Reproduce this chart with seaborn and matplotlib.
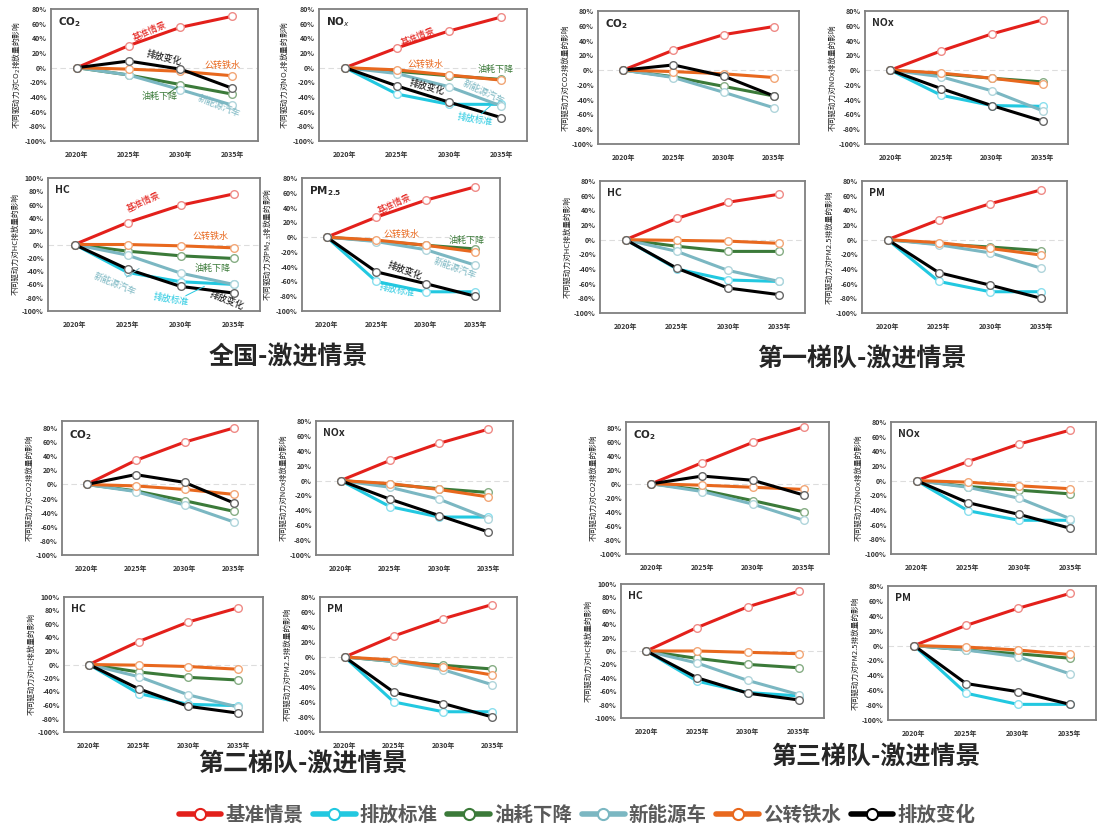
import matplotlib
matplotlib.use('Agg')
import matplotlib.pyplot as plt
from matplotlib.lines import Line2D
import seaborn as sns

sns.set_style('white')
plt.rcParams['font.family'] = ['Noto Sans CJK SC', 'DejaVu Sans']
plt.rcParams['axes.unicode_minus'] = False

years = ['2020年', '2025年', '2030年', '2035年']
names = ['基准情景', '排放标准', '油耗下降', '新能源车', '公转铁水', '排放变化']
colors = ['#e3201b', '#22c8e0', '#3b7a39', '#7bb7c2', '#e8681e', '#000000']
edge_colors = ['#ef8a86', '#8adfee', '#86ad84', '#b0d5db', '#f2a676', '#666666']

# 每个面板: 基准情景, 排放标准, 油耗下降, 新能源车, 公转铁水, 排放变化 (%)
# 全国
nat_co2 = [[0, 30, 55, 70], None, [0, -10, -23, -36], [0, -10, -30, -51], [0, -2, -5, -11], [0, 9, -2, -28]]
nat_nox = [[0, 27, 50, 69], [0, -36, -50, -50], [0, -5, -11, -16], [0, -8, -26, -52], [0, -3, -10, -17], [0, -25, -47, -68]]
nat_hc = [[0, 33, 59, 76], [0, -42, -56, -60], [0, -10, -17, -21], [0, -16, -43, -60], [0, 0, -2, -5], [0, -37, -63, -73]]
nat_pm = [[0, 27, 50, 68], [0, -60, -74, -74], [0, -5, -11, -16], [0, -6, -17, -38], [0, -4, -11, -20], [0, -47, -63, -80]]
# 第一梯队
t1_co2 = [[0, 27, 48, 59], None, [0, -9, -22, -35], [0, -10, -30, -51], [0, -2, -5, -10], [0, 7, -8, -35]]
t1_nox = [[0, 26, 49, 68], [0, -34, -48, -49], [0, -5, -11, -16], [0, -9, -28, -55], [0, -4, -11, -19], [0, -25, -48, -69]]
t1_hc = [[0, 29, 51, 62], [0, -40, -55, -57], [0, -9, -16, -16], [0, -16, -42, -57], [0, -1, -2, -5], [0, -39, -66, -75]]
t1_pm = [[0, 27, 49, 68], [0, -57, -71, -71], [0, -6, -10, -15], [0, -7, -18, -39], [0, -4, -12, -21], [0, -45, -62, -80]]
# 第二梯队
t2_co2 = [[0, 34, 60, 80], None, [0, -9, -23, -38], [0, -10, -29, -53], [0, -2, -7, -14], [0, 14, 3, -26]]
t2_nox = [[0, 27, 50, 69], [0, -35, -49, -49], [0, -5, -11, -16], [0, -9, -25, -51], [0, -4, -12, -22], [0, -25, -47, -69]]
t2_hc = [[0, 34, 63, 84], [0, -43, -59, -61], [0, -11, -19, -23], [0, -18, -45, -63], [0, -1, -3, -7], [0, -36, -62, -72]]
t2_pm = [[0, 28, 51, 70], [0, -60, -73, -73], [0, -6, -11, -16], [0, -6, -17, -37], [0, -4, -13, -24], [0, -47, -62, -80]]
# 第三梯队
t3_co2 = [[0, 30, 59, 81], None, [0, -9, -24, -40], [0, -11, -29, -52], [0, -2, -5, -8], [0, 11, 5, -16]]
t3_nox = [[0, 26, 50, 69], [0, -41, -54, -54], [0, -8, -13, -18], [0, -9, -24, -52], [0, -2, -7, -11], [0, -30, -46, -65]]
t3_hc = [[0, 35, 66, 89], [0, -45, -62, -67], [0, -11, -20, -25], [0, -18, -44, -65], [0, 0, -2, -4], [0, -40, -63, -73]]
t3_pm = [[0, 27, 50, 70], [0, -64, -79, -79], [0, -6, -11, -17], [0, -6, -15, -38], [0, -2, -6, -12], [0, -51, -62, -79]]

group_titles = ['全国-激进情景', '第一梯队-激进情景', '第二梯队-激进情景', '第三梯队-激进情景']

# 全国面板里的线上标注: (文字, 序列, x, y, 旋转)
nat_co2_notes = [('基准情景', 0, 1.4, 49, 24), ('排放变化', 5, 1.68, 14, -14), ('公转铁水', 4, 2.82, 3, 0),
                 ('油耗下降', 2, 1.6, -40, 0), ('新能源汽车', 3, 2.74, -53, -22)]
nat_nox_notes = [('基准情景', 0, 1.41, 42, 22), ('公转铁水', 4, 1.54, 4, 0), ('油耗下降', 2, 2.9, -3, 0),
                 ('新能源汽车', 3, 2.67, -33, -25), ('排放变化', 5, 1.57, -27, -15), ('排放标准', 1, 2.5, -71, -10)]
nat_hc_notes = [('基准情景', 0, 1.31, 63, 25), ('公转铁水', 4, 2.57, 12, 0), ('油耗下降', 2, 2.6, -36, 0),
                ('新能源汽车', 3, 0.76, -59, -22), ('排放标准', 1, 1.82, -83, -10), ('排放变化', 5, 2.88, -84, -22)]
nat_pm_notes = [('基准情景', 0, 1.37, 45, 25), ('公转铁水', 4, 1.51, 3, 0), ('油耗下降', 2, 2.83, -4, 0),
                ('新能源汽车', 3, 2.59, -43, -20), ('排放变化', 5, 1.57, -46, -20), ('排放标准', 1, 1.41, -72, -12)]

W, H = 1099, 832
fig = plt.figure(figsize=(W / 100, H / 100), dpi=100)


def px_rect(l, t, r, b):
    return [l / W, 1 - b / H, (r - l) / W, (b - t) / H]


def draw_panel(box, data, top, title, ylabel, notes=None, leaders=None):
    ax = fig.add_axes(px_rect(*box))
    ax.axhline(0, color='#dddddd', lw=0.8, ls=(0, (5, 3)), zorder=0)
    for col, ec, vals in zip(colors, edge_colors, data):
        if vals is None:
            continue
        sns.lineplot(x=[0, 1, 2, 3], y=vals, ax=ax, color=col, lw=2.2, marker='o', ms=5.5,
                     markerfacecolor='white', markeredgecolor=ec, markeredgewidth=1.0)
    ax.set_xlim(-0.5, 3.5)
    ax.set_ylim(-100, top)
    ticks = list(range(-100, int(top) + 1, 20))
    ax.set_yticks(ticks)
    ax.set_yticklabels([f'{t}%' for t in ticks])
    ax.set_xticks([0, 1, 2, 3])
    ax.set_xticklabels(years)
    ax.tick_params(axis='x', length=0, labelsize=5, pad=7, labelcolor='#333333')
    ax.tick_params(axis='y', length=0, labelsize=5, pad=3, labelcolor='#333333')
    for lbl in ax.get_xticklabels() + ax.get_yticklabels():
        lbl.set_fontweight('bold')
    for s in ax.spines.values():
        s.set_color('#7f7f7f')
        s.set_linewidth(1.3)
    ax.set_xlabel('')
    ax.set_ylabel(ylabel, fontsize=5.5, labelpad=2, color='#222222')
    ax.text(0.035, 0.95, title, transform=ax.transAxes, fontsize=7.5, fontweight='bold', va='top', ha='left')
    if notes:
        for txt, i, x, y, rot in notes:
            ax.text(x, y, txt, color=colors[i], fontsize=6.5, rotation=rot, ha='center', va='center',
                    rotation_mode='anchor')
    if leaders:
        for i, x1, y1, x2, y2 in leaders:
            ax.plot([x1, x2], [y1, y2], color=colors[i], lw=0.7)
    return ax


ylab = '不同驱动力对{}排放量的影响'

# 全国
draw_panel((51, 9, 258, 141), nat_co2, 80, r'$\mathbf{CO_2}$', ylab.format('CO$_2$'), nat_co2_notes,
           [(2, 1.75, -36, 1.95, -26)])
draw_panel((319, 9, 527, 141), nat_nox, 80, r'$\mathbf{NO}_{x}$', ylab.format('NO$_x$'), nat_nox_notes,
           [(1, 2.62, -63, 2.8, -52)])
draw_panel((48, 178, 260, 311), nat_hc, 100, 'HC', ylab.format('HC'), nat_hc_notes,
           [(3, 0.98, -49, 1.22, -36), (1, 2.1, -77, 2.45, -63)])
draw_panel((302, 178, 500, 311), nat_pm, 80, r'$\mathbf{PM_{2.5}}$', ylab.format('PM$_{2.5}$'), nat_pm_notes)

# 第一梯队
draw_panel((598, 11, 799, 144), t1_co2, 80, r'$\mathbf{CO_2}$', ylab.format('CO2'))
draw_panel((865, 11, 1068, 144), t1_nox, 80, 'NOx', ylab.format('NOx'))
draw_panel((600, 181, 805, 313), t1_hc, 80, 'HC', ylab.format('HC'))
draw_panel((862, 181, 1067, 313), t1_pm, 80, 'PM', ylab.format('PM2.5'))

# 第二梯队
draw_panel((62, 421, 258, 555), t2_co2, 90, r'$\mathbf{CO_2}$', ylab.format('CO2'))
draw_panel((316, 421, 513, 555), t2_nox, 80, 'NOx', ylab.format('NOx'))
draw_panel((64, 597, 263, 732), t2_hc, 100, 'HC', ylab.format('HC'))
draw_panel((320, 597, 517, 732), t2_pm, 80, 'PM', ylab.format('PM2.5'))

# 第三梯队
draw_panel((626, 422, 829, 554), t3_co2, 88, r'$\mathbf{CO_2}$', ylab.format('CO2'))
draw_panel((891, 422, 1096, 554), t3_nox, 80, 'NOx', ylab.format('NOx'))
draw_panel((621, 584, 824, 718), t3_hc, 100, 'HC', ylab.format('HC'))
draw_panel((888, 586, 1096, 720), t3_pm, 80, 'PM', ylab.format('PM2.5'))

# 分组标题
for txt, (cx, cy) in zip(group_titles, [(288, 358), (862, 360), (303, 765), (876, 758)]):
    fig.text(cx / W, 1 - cy / H, txt, fontsize=18, fontweight='bold', ha='center', va='center')

handles = [Line2D([0], [0], color=c, lw=4, marker='o', ms=8, markerfacecolor='white',
                  markeredgecolor=c, markeredgewidth=1.5) for c in colors]
fig.legend(handles, names, loc='center', bbox_to_anchor=(577 / W, 1 - 815 / H), ncol=6, frameon=False,
           prop={'size': 14, 'weight': 'bold'}, labelcolor='#595959', handlelength=2.2,
           handletextpad=0.2, columnspacing=0.5)

fig.savefig('out.png', dpi=100, facecolor='white')
